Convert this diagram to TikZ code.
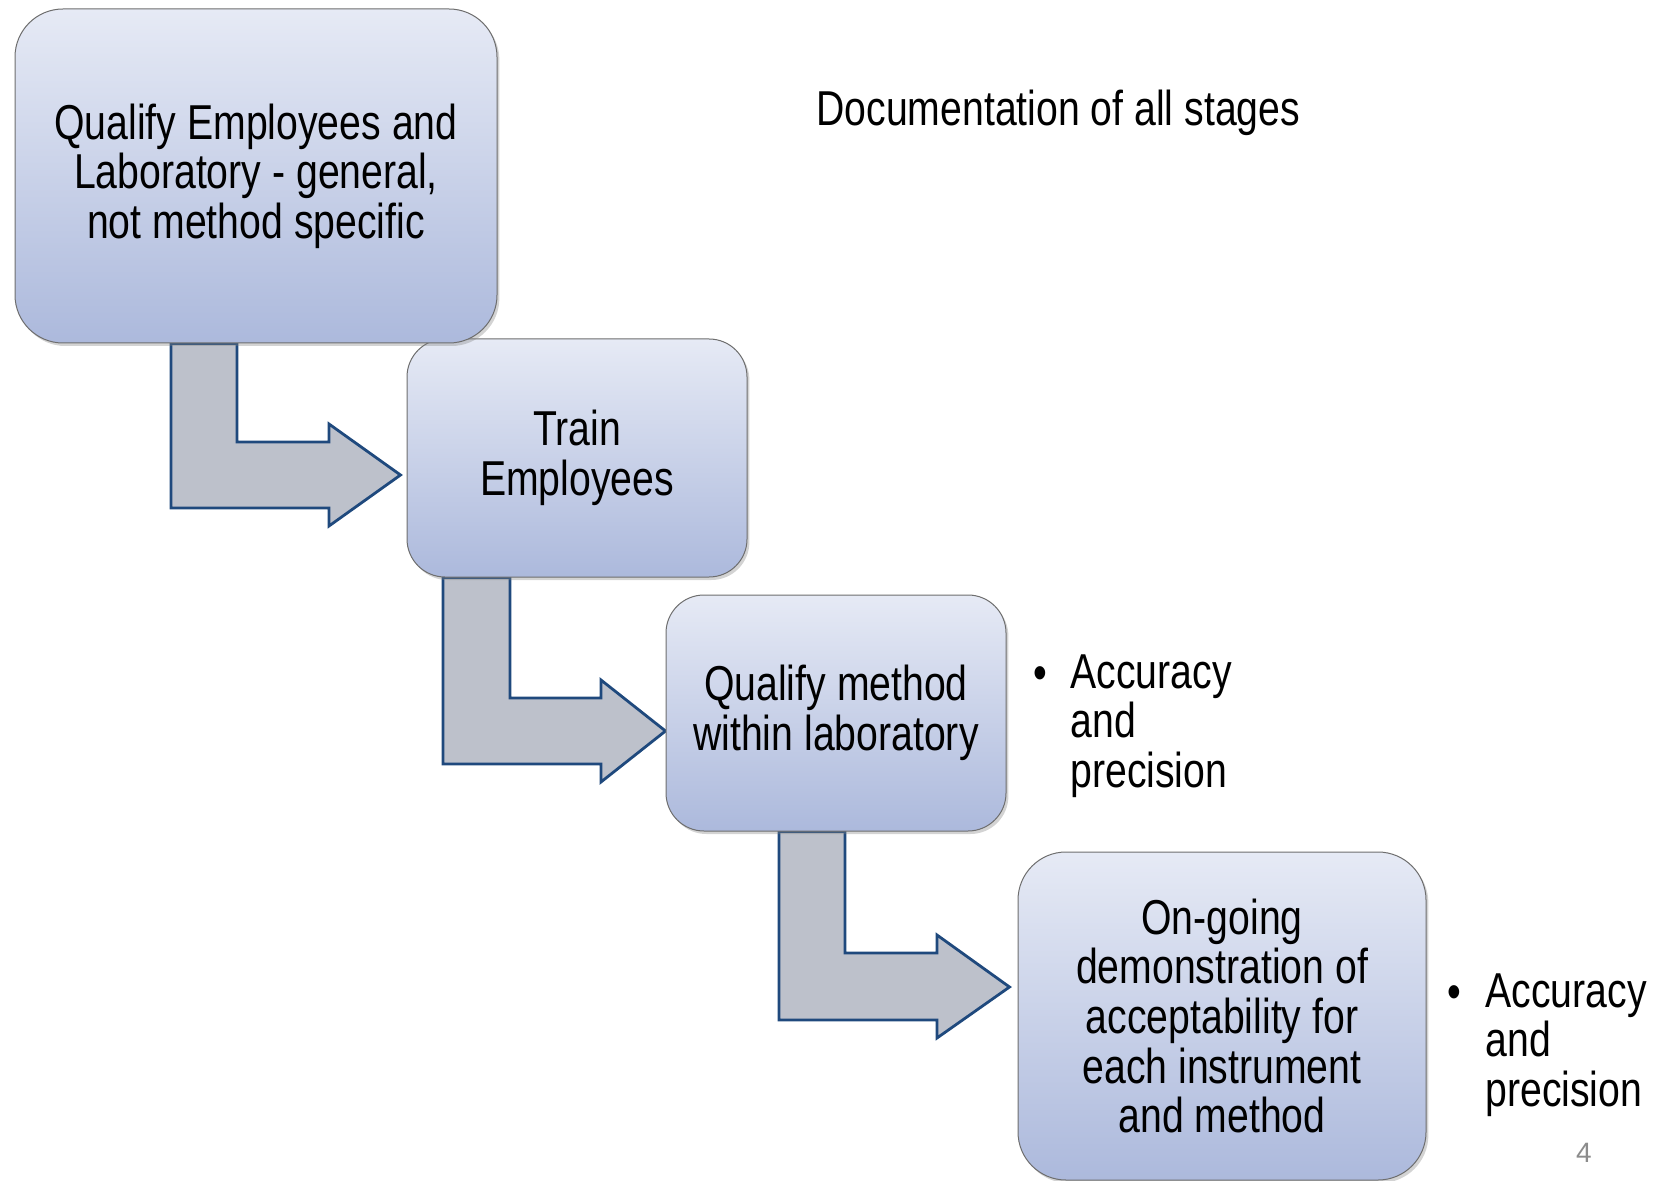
\documentclass[tikz,border=0pt]{standalone}
\usepackage{fontspec}
\setmainfont{Liberation Sans}[FakeStretch=0.8]
\newfontfamily\pagefont{Liberation Sans}
\usetikzlibrary{calc,shadows}
\definecolor{boxtop}{RGB}{230,234,245}
\definecolor{boxbot}{RGB}{172,185,220}
\definecolor{arrfill}{RGB}{189,193,203}
\definecolor{arrline}{RGB}{31,73,125}
\definecolor{boxline}{RGB}{110,110,110}
\definecolor{pagegray}{RGB}{140,140,140}
\pgfdeclarelayer{background}
\pgfsetlayers{background,main}
\begin{document}
\begin{tikzpicture}[x=0.5pt,y=-0.5pt,
  stepbox/.style={rectangle, draw=boxline, line width=0.5pt, top color=boxtop, bottom color=boxbot,
    inner sep=0pt, align=center, font=\fontsize{24.5}{24.8}\selectfont,
    drop shadow={shadow xshift=1.2pt, shadow yshift=-1.5pt, opacity=0.35}},
  bigbox/.style={rounded corners=24pt},
  smallbox/.style={rounded corners=19pt},
  blockarrow/.style={draw=arrline, fill=arrfill, line width=1.4pt, line join=miter},
  lbl/.style={font=\fontsize{24.5}{24.8}\selectfont, inner sep=0pt}
]
\useasboundingbox (0,0) rectangle (1668,1181);

% boxes (later ones first so that the first box lies on top)
\node[stepbox, bigbox, minimum width=204pt, minimum height=164pt] (b4) at (1222,1016)
  {On-going\\demonstration of\\acceptability for\\each instrument\\and method};
\node[stepbox, smallbox, minimum width=170pt, minimum height=118pt] (b3) at (836,713)
  {Qualify method\\within laboratory};
\node[stepbox, smallbox, minimum width=170pt, minimum height=119pt] (b2) at (577,458)
  {Train\\Employees};
\node[stepbox, bigbox, minimum width=241pt, minimum height=167pt] (b1) at (256,176)
  {Qualify Employees and\\Laboratory - general,\\not method specific};

% texts
\node[lbl, anchor=base west] (doc) at (816,126) {Documentation of all stages};
\node[lbl, anchor=base] (bul1) at (1040,689) {•};
\node[lbl, anchor=north west, align=left] (acc1) at (1070,654) {Accuracy\\and\\precision};
\node[lbl, anchor=base] (bul2) at (1454,1008) {•};
\node[lbl, anchor=north west, align=left] (acc2) at (1485,973) {Accuracy\\and\\precision};
\node[font=\pagefont\fontsize{14}{14}\selectfont, text=pagegray, inner sep=0pt] (pg) at (1584,1153) {4};

% bent block arrows
\begin{pgfonlayer}{background}
\draw[blockarrow] (171,0 |- b1.south) -- (171,508) -- (329,508) -- (329,526)
  -- ($(b2.west |- 0,475)+(-6,0)$) -- (329,424) -- (329,442) -- (237,442)
  -- (237,0 |- b1.south) -- cycle;
\draw[blockarrow] (443,0 |- b2.south) -- (443,764) -- (601,764) -- (601,782)
  -- (b3.west |- 0,731) -- (601,680) -- (601,698) -- (510,698)
  -- (510,0 |- b2.south) -- cycle;
\draw[blockarrow] (779,0 |- b3.south) -- (779,1020) -- (937,1020) -- (937,1038)
  -- ($(b4.west |- 0,987)+(-8,0)$) -- (937,935) -- (937,953) -- (845,953)
  -- (845,0 |- b3.south) -- cycle;
\end{pgfonlayer}
\end{tikzpicture}
\end{document}
